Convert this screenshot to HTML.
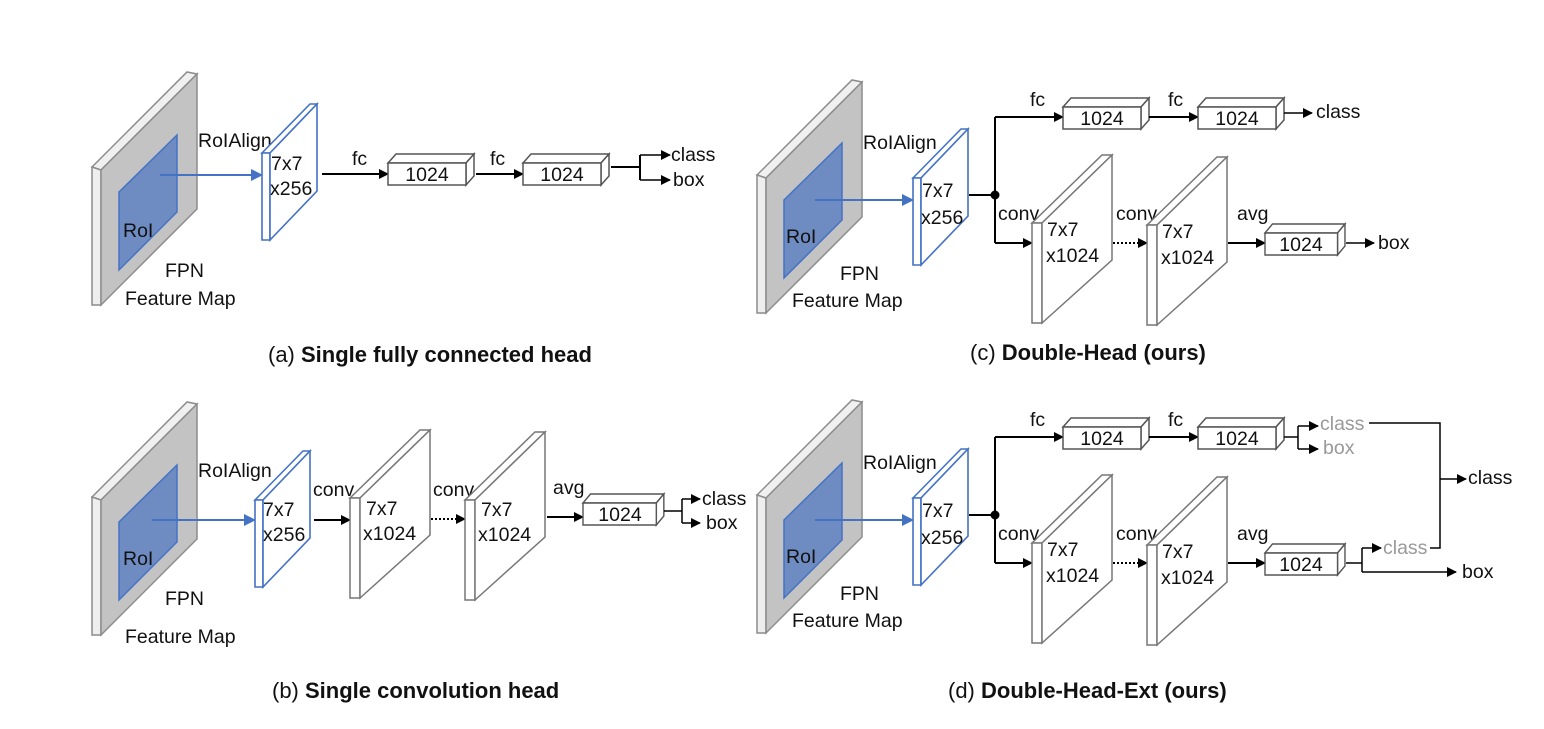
<!DOCTYPE html>
<html><head><meta charset="utf-8"><style>
html,body{margin:0;padding:0;background:#fff;}
svg{display:block;}
text{font-family:"Liberation Sans",sans-serif;font-size:19.5px;fill:#111;}
.cap{font-size:22px;}
.g{fill:#999;}
</style></head><body>
<svg width="1544" height="729" viewBox="0 0 1544 729" xmlns="http://www.w3.org/2000/svg">
<defs>
<marker id="ah" markerWidth="10" markerHeight="10" refX="9" refY="5" orient="auto" markerUnits="userSpaceOnUse">
<path d="M0,0 L10,5 L0,10 z" fill="#000"/></marker>
<marker id="ahb" markerWidth="12" markerHeight="12" refX="11" refY="6" orient="auto" markerUnits="userSpaceOnUse">
<path d="M0,0 L12,6 L0,12 z" fill="#4472c4"/></marker>
<g id="fm" stroke="#8c8c8c" stroke-width="1.5">
<polygon points="757,175 852,80 862,82 766,178" fill="#f0f0f0"/>
<polygon points="757,175 766,178 766,313 757,313" fill="#eeeeee"/>
<polygon points="766,178 862,82 862,217 766,313" fill="#c3c3c3"/>
<polygon points="784,200 842,143 842,220 784,278" fill="#6f8cc2" stroke="#4472c4"/>
</g>
<g id="slab" stroke="#4472c4" stroke-width="1.6" fill="#fff">
<polygon points="0,0 48,-49 55,-49 8,0"/>
<polygon points="0,0 8,0 8,87 0,87"/>
<polygon points="8,0 55,-49 55,38 8,87"/>
</g>
<g id="conv" stroke="#777" stroke-width="1.5" fill="#fff">
<polygon points="0,0 70,-68 80,-68 10,0"/>
<polygon points="0,0 10,0 10,100 0,100"/>
<polygon points="10,0 80,-68 80,37 10,100"/>
</g>
<g id="box" stroke="#555" stroke-width="1.5" fill="#fff">
<polygon points="0,0 8,-9 86,-9 78,0"/>
<polygon points="78,0 86,-9 86,13 78,22"/>
<rect x="0" y="0" width="78" height="22"/>
</g>
</defs>

<!-- (a) -->
<use href="#fm" transform="translate(-665,-8)"/>
<text x="123" y="237">RoI</text>
<text x="165" y="277">FPN</text>
<text x="125" y="305">Feature Map</text>
<text x="198" y="147">RoIAlign</text>
<line x1="160" y1="175" x2="262" y2="175" stroke="#4472c4" stroke-width="2" marker-end="url(#ahb)"/>
<use href="#slab" transform="translate(262,153)"/>
<text x="271" y="170">7x7</text><text x="270" y="195">x256</text>
<line x1="322" y1="174" x2="388" y2="174" stroke="#000" stroke-width="2" marker-end="url(#ah)"/>
<text x="352" y="165">fc</text>
<use href="#box" transform="translate(388,163)"/><text x="427" y="181" text-anchor="middle">1024</text>
<line x1="476" y1="174" x2="523" y2="174" stroke="#000" stroke-width="2" marker-end="url(#ah)"/>
<text x="490" y="165">fc</text>
<use href="#box" transform="translate(523,163)"/><text x="562" y="181" text-anchor="middle">1024</text>
<path d="M611,167 H640 M640,155 V180" stroke="#000" stroke-width="2" fill="none"/>
<line x1="640" y1="155" x2="670" y2="155" stroke="#000" stroke-width="1.5" marker-end="url(#ah)"/>
<line x1="640" y1="180" x2="670" y2="180" stroke="#000" stroke-width="1.5" marker-end="url(#ah)"/>
<text x="671" y="161">class</text><text x="673" y="186">box</text>
<text class="cap" x="268" y="362">(a) <tspan font-weight="bold">Single fully connected head</tspan></text>

<!-- (b) -->
<use href="#fm" transform="translate(-665,322)"/>
<text x="123" y="565">RoI</text>
<text x="165" y="605">FPN</text>
<text x="125" y="643">Feature Map</text>
<text x="198" y="477">RoIAlign</text>
<line x1="152" y1="520" x2="255" y2="520" stroke="#4472c4" stroke-width="2" marker-end="url(#ahb)"/>
<use href="#slab" transform="translate(255,500)"/>
<text x="263" y="516">7x7</text><text x="263" y="541">x256</text>
<line x1="314" y1="520" x2="350" y2="520" stroke="#000" stroke-width="2" marker-end="url(#ah)"/>
<text x="313" y="496">conv</text>
<use href="#conv" transform="translate(350,498)"/>
<text x="366" y="515">7x7</text><text x="363" y="540">x1024</text>
<line x1="431" y1="519" x2="465" y2="519" stroke="#000" stroke-width="2" stroke-dasharray="2,2" marker-end="url(#ah)"/>
<text x="433" y="496">conv</text>
<use href="#conv" transform="translate(465,500)"/>
<text x="481" y="516">7x7</text><text x="478" y="541">x1024</text>
<line x1="547" y1="517" x2="583" y2="517" stroke="#000" stroke-width="2" marker-end="url(#ah)"/>
<text x="553" y="494">avg</text>
<use href="#box" transform="translate(583,503) scale(0.94,1)"/><text x="620" y="521" text-anchor="middle">1024</text>
<path d="M664,511 H682 M682,499 V523" stroke="#000" stroke-width="1.5" fill="none"/>
<line x1="682" y1="499" x2="700" y2="499" stroke="#000" stroke-width="1.5" marker-end="url(#ah)"/>
<line x1="682" y1="523" x2="700" y2="523" stroke="#000" stroke-width="1.5" marker-end="url(#ah)"/>
<text x="702" y="505">class</text><text x="706" y="529">box</text>
<text class="cap" x="272" y="698">(b) <tspan font-weight="bold">Single convolution head</tspan></text>

<!-- (c) and (d) shared -->
<g id="dh">
<use href="#fm"/>
<text x="786" y="243">RoI</text>
<text x="840" y="280">FPN</text>
<text x="792" y="307">Feature Map</text>
<text x="863" y="149">RoIAlign</text>
<line x1="815" y1="200" x2="913" y2="200" stroke="#4472c4" stroke-width="2" marker-end="url(#ahb)"/>
<use href="#slab" transform="translate(913,178)"/>
<text x="922" y="197">7x7</text><text x="921" y="224">x256</text>
<line x1="969" y1="195" x2="995" y2="195" stroke="#000" stroke-width="2"/>
<circle cx="995" cy="195" r="4.5" fill="#000"/>
<line x1="995" y1="117" x2="995" y2="243" stroke="#000" stroke-width="2"/>
<line x1="995" y1="117" x2="1063" y2="117" stroke="#000" stroke-width="2" marker-end="url(#ah)"/>
<text x="1030" y="106">fc</text>
<use href="#box" transform="translate(1063,107)"/><text x="1102" y="125" text-anchor="middle">1024</text>
<line x1="1149" y1="117" x2="1198" y2="117" stroke="#000" stroke-width="2" marker-end="url(#ah)"/>
<text x="1168" y="106">fc</text>
<line x1="995" y1="243" x2="1032" y2="243" stroke="#000" stroke-width="2" marker-end="url(#ah)"/>
<text x="998" y="220">conv</text>
<use href="#conv" transform="translate(1032,223)"/>
<text x="1047" y="236">7x7</text><text x="1046" y="262">x1024</text>
<line x1="1113" y1="243" x2="1147" y2="243" stroke="#000" stroke-width="2" stroke-dasharray="2,2" marker-end="url(#ah)"/>
<text x="1116" y="220">conv</text>
<use href="#conv" transform="translate(1147,225)"/>
<text x="1162" y="238">7x7</text><text x="1161" y="264">x1024</text>
<line x1="1228" y1="243" x2="1265" y2="243" stroke="#000" stroke-width="2" marker-end="url(#ah)"/>
<text x="1237" y="220">avg</text>
</g>
<use href="#box" transform="translate(1198,107)"/><text x="1237" y="125" text-anchor="middle">1024</text>
<line x1="1284" y1="113" x2="1312" y2="113" stroke="#000" stroke-width="1.5" marker-end="url(#ah)"/>
<text x="1316" y="118">class</text>
<use href="#box" transform="translate(1265,233) scale(0.93,1)"/><text x="1301" y="251" text-anchor="middle">1024</text>
<line x1="1346" y1="243" x2="1374" y2="243" stroke="#000" stroke-width="1.5" marker-end="url(#ah)"/>
<text x="1378" y="249">box</text>
<text class="cap" x="970" y="360">(c) <tspan font-weight="bold">Double-Head (ours)</tspan></text>

<!-- (d) -->
<use href="#dh" transform="translate(0,320)"/>
<use href="#box" transform="translate(1198,427)"/><text x="1237" y="445" text-anchor="middle">1024</text>
<path d="M1284,437 H1298 M1298,426 V449" stroke="#000" stroke-width="1.5" fill="none"/>
<line x1="1298" y1="426" x2="1318" y2="426" stroke="#000" stroke-width="1.5" marker-end="url(#ah)"/>
<line x1="1298" y1="449" x2="1318" y2="449" stroke="#000" stroke-width="1.5" marker-end="url(#ah)"/>
<text class="g" x="1320" y="430">class</text><text class="g" x="1323" y="454">box</text>
<path d="M1369,423 H1440 V548 H1430" stroke="#000" stroke-width="1.5" fill="none"/>
<line x1="1440" y1="479" x2="1466" y2="479" stroke="#000" stroke-width="1.5" marker-end="url(#ah)"/>
<text x="1468" y="484">class</text>
<use href="#box" transform="translate(1265,553) scale(0.93,1)"/><text x="1301" y="571" text-anchor="middle">1024</text>
<path d="M1346,563 H1362 M1362,548 V572" stroke="#000" stroke-width="1.5" fill="none"/>
<line x1="1362" y1="548" x2="1381" y2="548" stroke="#000" stroke-width="1.5" marker-end="url(#ah)"/>
<line x1="1362" y1="572" x2="1456" y2="572" stroke="#000" stroke-width="1.5" marker-end="url(#ah)"/>
<text class="g" x="1383" y="554">class</text><text x="1462" y="578">box</text>
<text class="cap" x="948" y="698">(d) <tspan font-weight="bold">Double-Head-Ext (ours)</tspan></text>
</svg>
</body></html>
